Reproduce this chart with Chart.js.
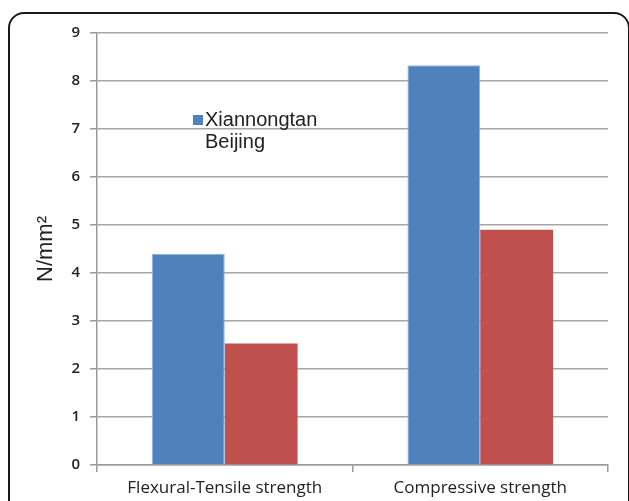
<!DOCTYPE html>
<html>
<head>
<meta charset="utf-8">
<script src="https://cdn.jsdelivr.net/npm/chart.js@4/dist/chart.umd.min.js"></script>
<style>
  html, body { margin: 0; padding: 0; background: #fff; overflow: hidden; }
  #wrap { position: relative; width: 629px; height: 501px; }
  #frame {
    position: absolute; left: 8px; top: 12px; width: 618px; height: 540px;
    border: 2px solid #1a1a1a; border-radius: 16px; box-sizing: content-box;
  }
  #myChart { position: absolute; left: 0; top: 0; }
</style>
</head>
<body>
<div id="wrap">
  <div id="frame"></div>
  <canvas id="myChart" width="629" height="501"></canvas>
</div>
<script>
// strength test results, N/mm2
const categories = ["Flexural-Tensile strength", "Compressive strength"];
const seriesNames = ["Xiannongtan", "Beijing"];
const xiannongtan = [4.4, 8.33];
const beijing = [2.53, 4.9];
const yTicks = [0, 1, 2, 3, 4, 5, 6, 7, 8, 9];

// legend sits inside the plot, only the first entry has a swatch
const innerLegend = {
    id: "innerLegend",
    afterDatasetsDraw(chart) {
        const ctx = chart.ctx;
        const sets = chart.data.datasets;
        ctx.save();
        ctx.font = "20px 'Liberation Sans', Arial, sans-serif";
        ctx.textBaseline = "alphabetic";
        ctx.textAlign = "left";
        ctx.fillStyle = sets[0].backgroundColor;
        ctx.fillRect(193, 115, 10, 10);
        ctx.fillStyle = "#222";
        ctx.fillText(sets[0].label, 205, 126);
        ctx.fillText(sets[1].label, 205, 148);
        ctx.restore();
    }
};

let myChart = document.getElementById("myChart").getContext("2d");
var chart = new Chart(myChart, {
    type: "bar",
    data: {
        labels: categories,
        datasets: [
            {
                label: seriesNames[0],
                data: xiannongtan,
                backgroundColor: "#4f81bd",
                borderColor: "#8db3e2",
                borderWidth: 1,
                categoryPercentage: 0.57,
                barPercentage: 1.0
            },
            {
                label: seriesNames[1],
                data: beijing,
                backgroundColor: "#c0504d",
                borderColor: "#c0504d",
                borderWidth: 0,
                categoryPercentage: 0.57,
                barPercentage: 1.0
            }
        ]
    },
    options: {
        responsive: false,
        animation: false,
        layout: { padding: { top: 33, right: 21, left: 0, bottom: 0 } },
        plugins: {
            legend: { display: false },
            tooltip: { enabled: false }
        },
        scales: {
            x: {
                offset: true,
                grid: {
                    drawOnChartArea: false,
                    tickLength: 7,
                    tickColor: "#9a9a9a",
                    lineWidth: 1.5
                },
                border: { color: "#9a9a9a", width: 1.5 },
                ticks: {
                    color: "#222",
                    padding: 6,
                    font: { family: "'Open Sans', sans-serif", size: 17 }
                },
                afterFit(scale) { scale.height = 36; }
            },
            y: {
                min: 0,
                max: 9,
                afterBuildTicks(scale) { scale.ticks = yTicks.map(v => ({ value: v })); },
                grid: {
                    color: "#a6a6a6",
                    lineWidth: 1.5,
                    tickLength: 7,
                    tickColor: "#9a9a9a"
                },
                border: { color: "#9a9a9a", width: 1.5 },
                ticks: {
                    color: "#222",
                    padding: 10,
                    font: { family: "'Open Sans', sans-serif", size: 15, weight: "600" }
                },
                title: {
                    display: true,
                    text: "N/mm²",
                    color: "#222",
                    padding: { top: 33, bottom: 0 },
                    font: { family: "'Liberation Sans', Arial, sans-serif", size: 22 }
                },
                afterFit(scale) { scale.width = 97; }
            }
        }
    },
    plugins: [innerLegend]
});
</script>
</body>
</html>
